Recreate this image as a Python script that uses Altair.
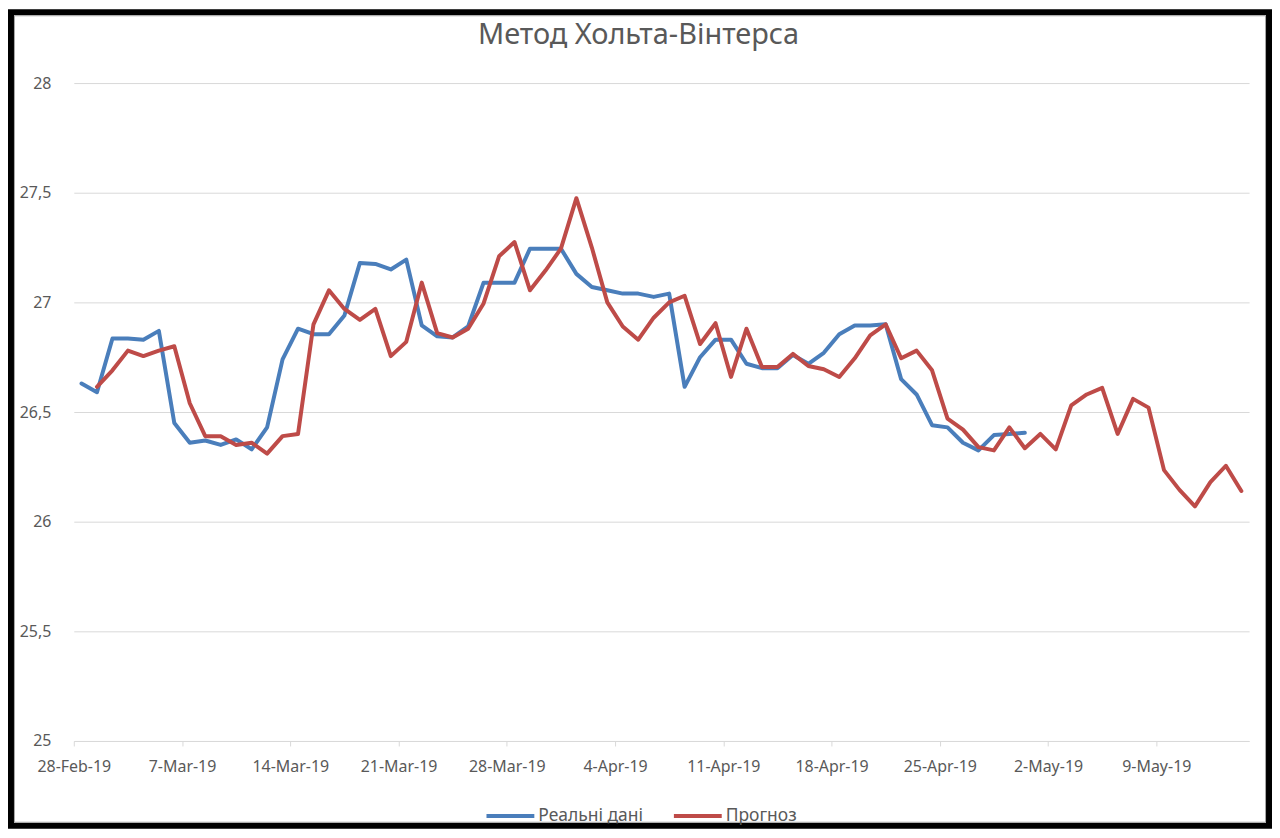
import altair as alt
import pandas as pd

# ---- data ----
START_DATE = "2019-02-28 12:00"  # each day's point sits mid-day, as in the source chart
N_DAYS = 76  # 28-Feb-19 .. 14-May-19, daily

REAL_NAME = "Реальні дані"
FORECAST_NAME = "Прогноз"

# actual values, 28-Feb .. 30-Apr
real_values = [
    26.63, 26.59, 26.835, 26.835, 26.83, 26.87, 26.45, 26.36, 26.37, 26.35,
    26.375, 26.33, 26.43, 26.74, 26.88, 26.855, 26.855, 26.94, 27.18, 27.175,
    27.15, 27.195, 26.895, 26.845, 26.84, 26.89, 27.09, 27.09, 27.09, 27.245,
    27.245, 27.245, 27.13, 27.07, 27.055, 27.04, 27.04, 27.025, 27.04, 26.615,
    26.75, 26.83, 26.83, 26.72, 26.70, 26.70, 26.76, 26.72, 26.77, 26.855,
    26.895, 26.895, 26.90, 26.65, 26.58, 26.44, 26.43, 26.36, 26.325, 26.395,
    26.40, 26.405,
]

# forecast values, 1-Mar .. 14-May
forecast_values = [
    26.615, 26.69, 26.78, 26.755, 26.78, 26.80, 26.54, 26.39, 26.39, 26.35,
    26.36, 26.31, 26.39, 26.40, 26.90, 27.055, 26.97, 26.92, 26.97, 26.755,
    26.82, 27.09, 26.86, 26.84, 26.88, 26.995, 27.21, 27.275, 27.055, 27.145,
    27.245, 27.475, 27.25, 27.00, 26.89, 26.83, 26.93, 27.00, 27.03, 26.81,
    26.905, 26.66, 26.88, 26.705, 26.705, 26.765, 26.71, 26.695, 26.66, 26.745,
    26.85, 26.90, 26.745, 26.78, 26.69, 26.47, 26.42, 26.34, 26.325, 26.43,
    26.335, 26.40, 26.33, 26.53, 26.58, 26.61, 26.40, 26.56, 26.52, 26.235,
    26.145, 26.07, 26.18, 26.255, 26.14,
]

x_tick_dates = [
    (2019, 2, 28), (2019, 3, 7), (2019, 3, 14), (2019, 3, 21), (2019, 3, 28),
    (2019, 4, 4), (2019, 4, 11), (2019, 4, 18), (2019, 4, 25), (2019, 5, 2),
    (2019, 5, 9),
]
x_domain_dates = [(2019, 2, 28), (2019, 5, 15)]
y_tick_values = [25, 25.5, 26, 26.5, 27, 27.5, 28]

TITLE = "Метод Хольта-Вінтерса"

# ---- table ----
dates = pd.date_range(START_DATE, periods=N_DAYS, freq="D").strftime("%Y-%m-%dT%H:%M:%SZ").tolist()
rows = []
for i, v in enumerate(real_values):
    rows.append({"date": dates[i], "value": v, "series": REAL_NAME})
for i, v in enumerate(forecast_values):
    rows.append({"date": dates[i + 1], "value": v, "series": FORECAST_NAME})
df = pd.DataFrame(rows)

# ---- layout ----
PLOT_W, PLOT_H = 1179, 660
PAD_L, PAD_T, PAD_R, PAD_B = 66, 74, 23, 88
TEXT_COLOR = "#595959"
GRID_COLOR = "#d9d9d9"
FONT = "Noto Sans"


def dt(t):
    return alt.DateTime(year=t[0], month=t[1], date=t[2], utc=True)


x_enc = alt.X(
    "date:T",
    scale=alt.Scale(type="utc", nice=False, domain=[dt(t) for t in x_domain_dates]),
    axis=alt.Axis(
        values=[dt(t) for t in x_tick_dates],
        format="%-d-%b-%y",
        title=None,
        grid=False,
        domainColor=GRID_COLOR,
        domainWidth=1,
        tickColor=GRID_COLOR,
        tickSize=5,
        labelColor=TEXT_COLOR,
        labelFontSize=16,
        labelFont=FONT,
        labelPadding=13,
        labelOverlap=False,
        labelFlush=False,
    ),
)

y_enc = alt.Y(
    "value:Q",
    scale=alt.Scale(domain=[25, 28], nice=False, zero=False),
    axis=alt.Axis(
        values=y_tick_values,
        labelExpr="replace(toString(datum.value), '.', ',')",
        title=None,
        grid=True,
        gridColor=GRID_COLOR,
        gridWidth=1,
        domain=False,
        ticks=False,
        labelColor=TEXT_COLOR,
        labelFontSize=16,
        labelFont=FONT,
        labelPadding=23,
    ),
)

color_enc = alt.Color(
    "series:N",
    scale=alt.Scale(domain=[REAL_NAME, FORECAST_NAME], range=["#4A7EBB", "#BE4B48"]),
    legend=alt.Legend(
        title=None,
        orient="none",
        direction="horizontal",
        legendX=412,
        legendY=709,
        symbolType="stroke",
        symbolStrokeWidth=4,
        symbolSize=2304,
        labelColor=TEXT_COLOR,
        labelFontSize=17.5,
        labelFont=FONT,
        labelOffset=2,
        columnPadding=22,
    ),
)

one = pd.DataFrame({"k": [0]})
# black outer frame of the picture (stroke only, so nothing underneath is hidden)
frame_black = alt.Chart(one).mark_rect(
    fillOpacity=0, stroke="black", strokeWidth=6
).encode(
    x=alt.value(-PAD_L + 3), x2=alt.value(PLOT_W + PAD_R - 3),
    y=alt.value(-PAD_T + 3), y2=alt.value(PLOT_H + PAD_B - 3),
)
frame_gray = alt.Chart(one).mark_rect(
    fillOpacity=0, stroke="#a6a6a6", strokeWidth=1
).encode(
    x=alt.value(-PAD_L + 6.5), x2=alt.value(PLOT_W + PAD_R - 6.5),
    y=alt.value(-PAD_T + 6.5), y2=alt.value(PLOT_H + PAD_B - 6.5),
)

lines = alt.Chart(df).mark_line(
    strokeWidth=4, strokeJoin="round", strokeCap="round"
).encode(
    x=x_enc,
    y=y_enc,
    color=color_enc,
    order=alt.Order("date:T"),
)

chart = alt.layer(lines, frame_black, frame_gray).properties(
    width=PLOT_W,
    height=PLOT_H,
    padding={"left": PAD_L, "top": PAD_T, "right": PAD_R, "bottom": PAD_B},
    autosize=alt.AutoSizeParams(type="none"),
    background="white",
    title=alt.TitleParams(
        TITLE,
        fontSize=29,
        font=FONT,
        fontWeight="normal",
        color=TEXT_COLOR,
        anchor="middle",
        offset=0,
        dy=41,
        dx=-23,
    ),
).configure_view(stroke=None)

chart.save("out.html", embed_options={"renderer": "svg", "actions": False})
